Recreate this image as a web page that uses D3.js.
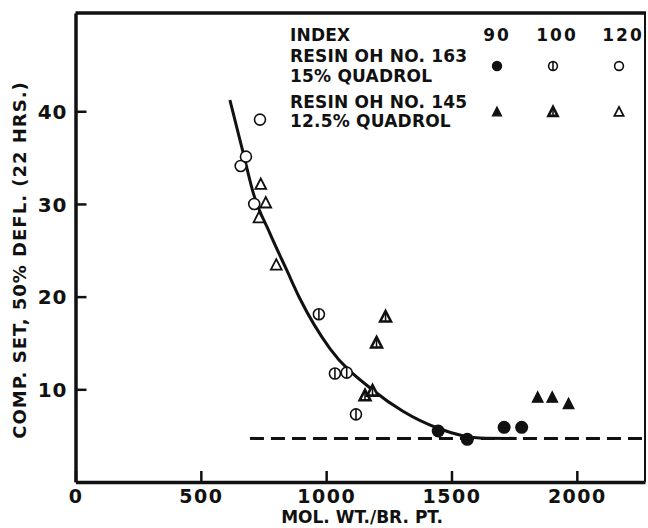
<!DOCTYPE html>
<html>
<head>
<meta charset="utf-8">
<script src="https://cdn.jsdelivr.net/npm/d3@7/dist/d3.min.js"></script>
<style>
  html, body { margin: 0; padding: 0; background: #fff; }
  svg text { font-family: "DejaVu Sans", sans-serif; font-weight: bold; fill: #111; }
</style>
</head>
<body>
<div id="chart"></div>
<script>
// Compression set vs. molecular weight per branch point

// index 120 (open), index 100 (barred), index 90 (filled)
const circ120 = [[659, 34.1], [680, 35.1], [713, 30.0], [736, 39.1]];
const tri120 = [[732, 28.5], [739, 32.1], [759, 30.1], [801, 23.4]];
const circ100 = [[971, 18.1], [1035, 11.7], [1082, 11.8], [1119, 7.3]];
const tri100 = [[1155, 9.3], [1185, 9.8], [1201, 15.0], [1237, 17.8]];
const circ90 = [[1447, 5.5], [1563, 4.6], [1710, 5.9], [1780, 5.9]];
const tri90 = [[1844, 9.1], [1902, 9.1], [1967, 8.4]];

// hand-drawn fit curve
const fitX = [616, 669, 709, 776, 842, 895, 1015, 1187, 1308, 1446, 1613, 1760];
const fitY = [41.2, 35.5, 31.2, 26.8, 22.9, 19.8, 14.4, 9.9, 7.6, 5.8, 4.75, 4.7];

// dashed asymptote
const dashStartX = 696;
const dashY = 4.7;

const xTicks = [0, 500, 1000, 1500, 2000];
const yTicks = [10, 20, 30, 40];
const indexLabels = ["90", "100", "120"];

const width = 648, height = 528;
const margin = { top: 13, right: 3, bottom: 46, left: 75.5 };
const ink = "#111";

const x = d3.scaleLinear().domain([0, 2272]).range([margin.left, width - margin.right]);
const y = d3.scaleLinear().domain([0, 50.6]).range([height - margin.bottom, margin.top]);

const svg = d3.select("#chart").append("svg")
  .attr("width", width)
  .attr("height", height);

// frame: top and right borders
svg.append("line")
  .attr("x1", x(0)).attr("x2", x(2272) + 1)
  .attr("y1", y(50.6)).attr("y2", y(50.6))
  .attr("stroke", ink).attr("stroke-width", 3.5);
svg.append("line")
  .attr("x1", x(2272)).attr("x2", x(2272))
  .attr("y1", y(50.6)).attr("y2", y(0))
  .attr("stroke", ink).attr("stroke-width", 2);

// axes
const xAxis = svg.append("g")
  .attr("transform", `translate(0,${y(0)})`)
  .call(d3.axisBottom(x).tickValues(xTicks).tickSizeInner(-11).tickSizeOuter(0).tickFormat(d3.format("d")));
xAxis.select(".domain").attr("stroke", ink).attr("stroke-width", 3.5);
xAxis.selectAll(".tick line").attr("stroke", ink).attr("stroke-width", 2.5);
xAxis.selectAll(".tick text")
  .attr("y", 21).attr("dy", 0)
  .attr("font-size", 19).attr("letter-spacing", 1.5)
  .style("font-family", "DejaVu Sans").style("font-weight", "bold").attr("fill", ink);

const yAxis = svg.append("g")
  .attr("transform", `translate(${x(0)},0)`)
  .call(d3.axisLeft(y).tickValues(yTicks).tickSizeInner(-11).tickSizeOuter(0));
yAxis.select(".domain").attr("stroke", ink).attr("stroke-width", 3.5);
yAxis.selectAll(".tick line").attr("stroke", ink).attr("stroke-width", 2.5);
yAxis.selectAll(".tick text")
  .attr("x", -8).attr("dy", "0.36em")
  .attr("font-size", 20).attr("letter-spacing", 1)
  .style("font-family", "DejaVu Sans").style("font-weight", "bold").attr("fill", ink);

// axis titles
svg.append("text")
  .attr("x", 362).attr("y", 523)
  .attr("text-anchor", "middle")
  .attr("font-size", 17).attr("letter-spacing", 0)
  .text("MOL. WT./BR. PT.");

svg.append("text")
  .attr("transform", "translate(26,260) rotate(-90)")
  .attr("text-anchor", "middle")
  .attr("font-size", 18).attr("letter-spacing", 1)
  .text("COMP. SET, 50% DEFL. (22 HRS.)");

// fit curve
const fit = fitX.map((v, i) => [v, fitY[i]]);
svg.append("path")
  .datum(fit)
  .attr("fill", "none")
  .attr("stroke", ink)
  .attr("stroke-width", 3)
  .attr("d", d3.line().x(d => x(d[0])).y(d => y(d[1])).curve(d3.curveMonotoneX));

// dashed line
svg.append("line")
  .attr("x1", x(dashStartX)).attr("x2", x(2272))
  .attr("y1", y(dashY)).attr("y2", y(dashY))
  .attr("stroke", ink).attr("stroke-width", 3)
  .attr("stroke-dasharray", "14,7");

// marker drawing
function drawMarker(g, kind, cx, cy, sc = 1) {
  const r = 5.5 * sc;
  if (kind === "circle") {
    g.append("circle").attr("cx", cx).attr("cy", cy).attr("r", r)
      .attr("fill", "#fff").attr("stroke", ink).attr("stroke-width", 1.6);
  } else if (kind === "circleBar") {
    g.append("circle").attr("cx", cx).attr("cy", cy).attr("r", r)
      .attr("fill", "#fff").attr("stroke", ink).attr("stroke-width", 1.6);
    g.append("line").attr("x1", cx).attr("x2", cx).attr("y1", cy - r).attr("y2", cy + r)
      .attr("stroke", ink).attr("stroke-width", 1.6);
  } else if (kind === "dot") {
    g.append("circle").attr("cx", cx).attr("cy", cy).attr("r", 6.5 * sc).attr("fill", ink);
  } else {
    const s = 6 * sc;
    const pts = [[cx, cy - s], [cx + s * 0.9, cy + s * 0.75], [cx - s * 0.9, cy + s * 0.75]];
    const tri = g.append("polygon").attr("points", pts.map(p => p.join(",")).join(" "));
    if (kind === "triFilled") {
      tri.attr("fill", ink).attr("stroke", ink).attr("stroke-width", 1.2);
    } else if (kind === "triOpen") {
      tri.attr("fill", "#fff").attr("stroke", ink).attr("stroke-width", 1.8);
    } else {
      tri.attr("fill", "#fff").attr("stroke", ink).attr("stroke-width", 2.6);
      g.append("line").attr("x1", cx).attr("x2", cx).attr("y1", cy - s + 2).attr("y2", cy + s * 0.75)
        .attr("stroke", ink).attr("stroke-width", 1.6);
    }
  }
}

const marks = svg.append("g");
[
  [circ120, "circle"], [tri120, "triOpen"],
  [circ100, "circleBar"], [tri100, "triBar"],
  [circ90, "dot"], [tri90, "triFilled"]
].forEach(([arr, kind]) => {
  arr.forEach(d => drawMarker(marks, kind, x(d[0]), y(d[1])));
});

// legend
const legend = svg.append("g");
const legendLines = [
  ["INDEX", 41],
  ["RESIN OH NO. 163", 62],
  ["15% QUADROL", 82],
  ["RESIN OH NO. 145", 108],
  ["12.5% QUADROL", 127]
];
legend.selectAll("text.lbl")
  .data(legendLines)
  .enter().append("text")
  .attr("class", "lbl")
  .attr("x", 290)
  .attr("y", d => d[1])
  .attr("font-size", 17)
  .attr("letter-spacing", 0.2)
  .text(d => d[0]);

const colX = [497, 557, 623];
const markX = [497, 553, 619];
legend.selectAll("text.idx")
  .data(indexLabels)
  .enter().append("text")
  .attr("class", "idx")
  .attr("x", (d, i) => colX[i])
  .attr("y", 41)
  .attr("text-anchor", "middle")
  .attr("font-size", 17)
  .attr("letter-spacing", 2)
  .text(d => d);

["dot", "circleBar", "circle"].forEach((k, i) => drawMarker(legend, k, markX[i], 66, 0.8));
["triFilled", "triBar", "triOpen"].forEach((k, i) => drawMarker(legend, k, markX[i], 112, 0.85));
</script>
</body>
</html>
